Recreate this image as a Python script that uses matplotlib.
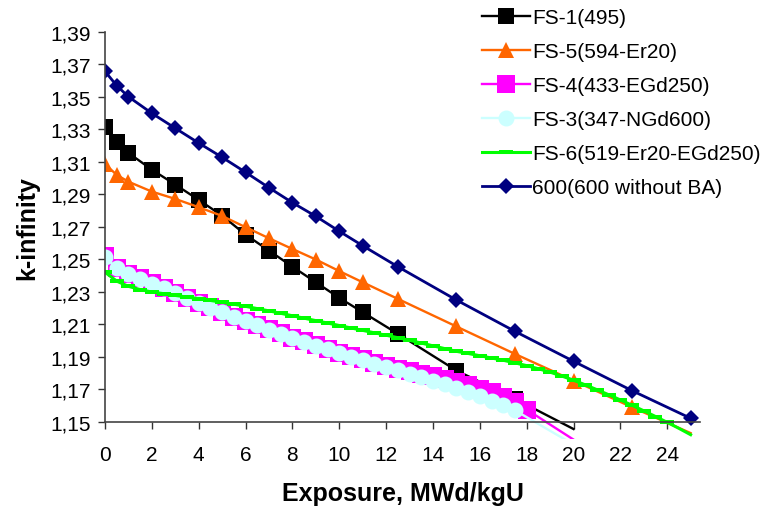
import matplotlib
matplotlib.use("Agg")
import matplotlib.pyplot as plt
from matplotlib.patches import Rectangle
from matplotlib.ticker import FuncFormatter

plt.rcParams["font.family"] = ["Liberation Sans", "DejaVu Sans"]

# burnup steps of the coarse series (MWd/kgU)
x_coarse = [0, 0.5, 1, 2, 3, 4, 5, 6, 7, 8, 9, 10, 11, 12.5, 15, 17.5, 20, 22.5, 25]

fs1 = [1.3316, 1.3223, 1.3154, 1.3051, 1.2959, 1.2865, 1.2768, 1.2651, 1.2553,
       1.2454, 1.2358, 1.2262, 1.2174, 1.2041, 1.1815, 1.1641, 1.1455]
fs5 = [1.3085, 1.3019, 1.2977, 1.2916, 1.2871, 1.2820, 1.2766, 1.2697, 1.2629,
       1.2563, 1.2498, 1.2427, 1.2358, 1.2256, 1.2086, 1.1917, 1.1753, 1.1589, 1.1430]
fs600 = [1.3656, 1.3568, 1.3500, 1.3398, 1.3306, 1.3215, 1.3127, 1.3035, 1.2940,
         1.2848, 1.2764, 1.2672, 1.2583, 1.2454, 1.2249, 1.2056, 1.1872, 1.1691, 1.1521]

x_fs4 = [0, 0.5, 1, 1.5, 2, 2.5, 3, 3.5, 4, 4.5, 5, 5.5, 6, 6.5, 7, 7.5, 8, 8.5, 9,
         9.5, 10, 10.5, 11, 11.5, 12, 12.5, 13, 13.5, 14, 14.5, 15, 15.5, 16, 16.5,
         17, 17.5, 18, 20]
fs4 = [1.2520, 1.2448, 1.2412, 1.2382, 1.2352, 1.2322, 1.2293, 1.2263, 1.2233,
       1.2203, 1.2175, 1.2147, 1.2120, 1.2094, 1.2068, 1.2043, 1.2018, 1.1994,
       1.1970, 1.1947, 1.1925, 1.1904, 1.1884, 1.1864, 1.1845, 1.1826, 1.1812,
       1.1796, 1.1780, 1.1763, 1.1745, 1.1725, 1.1703, 1.1680, 1.1654, 1.1624,
       1.1575, 1.1390]

x_fs3 = [0, 0.5, 1, 1.5, 2, 2.5, 3, 3.5, 4, 4.5, 5, 5.5, 6, 6.5, 7, 7.5, 8, 8.5, 9,
         9.5, 10, 10.5, 11, 11.5, 12, 12.5, 13, 13.5, 14, 14.5, 15, 15.5, 16, 16.5,
         17, 17.5, 20]
fs3 = [1.2512, 1.2445, 1.2410, 1.2380, 1.2350, 1.2320, 1.2291, 1.2261, 1.2231,
       1.2202, 1.2174, 1.2146, 1.2119, 1.2093, 1.2067, 1.2041, 1.2016, 1.1992,
       1.1968, 1.1945, 1.1922, 1.1900, 1.1879, 1.1858, 1.1837, 1.1816, 1.1795,
       1.1774, 1.1752, 1.1730, 1.1707, 1.1683, 1.1657, 1.1630, 1.1601, 1.1570,
       1.1360]

x_fs6 = [0, 0.5, 1, 1.5, 2, 2.5, 3, 3.5, 4, 4.5, 5, 5.5, 6, 6.5, 7, 7.5, 8, 8.5, 9,
         9.5, 10, 10.5, 11, 11.5, 12, 12.5, 13, 13.5, 14, 14.5, 15, 15.5, 16, 16.5,
         17, 17.5, 18, 18.5, 19, 19.5, 20, 20.5, 21, 21.5, 22, 22.5, 23, 23.5, 24,
         24.5, 25]
fs6 = [1.2420, 1.2365, 1.2333, 1.2313, 1.2298, 1.2288, 1.2277, 1.2267, 1.2257,
       1.2246, 1.2235, 1.2223, 1.2210, 1.2196, 1.2182, 1.2167, 1.2152, 1.2137,
       1.2122, 1.2107, 1.2092, 1.2077, 1.2062, 1.2047, 1.2032, 1.2017, 1.2001,
       1.1984, 1.1967, 1.1950, 1.1933, 1.1920, 1.1906, 1.1892, 1.1878, 1.1862,
       1.1845, 1.1826, 1.1805, 1.1781, 1.1755, 1.1727, 1.1697, 1.1666, 1.1634,
       1.1601, 1.1567, 1.1532, 1.1496, 1.1459, 1.1420]

labels = ["FS-1(495)", "FS-5(594-Er20)", "FS-4(433-EGd250)", "FS-3(347-NGd600)",
          "FS-6(519-Er20-EGd250)", "600(600 without BA)"]

x_ticks = [0, 2, 4, 6, 8, 10, 12, 14, 16, 18, 20, 22, 24]
y_ticks = [1.15, 1.17, 1.19, 1.21, 1.23, 1.25, 1.27, 1.29, 1.31, 1.33, 1.35, 1.37, 1.39]

fig = plt.figure(figsize=(7.68, 5.1), dpi=100)
ax = fig.add_axes([105 / 768, 87.3 / 510, 595 / 768, 390 / 510])

dash = [(-1, -0.35), (1, -0.35), (1, 0.35), (-1, 0.35), (-1, -0.35)]

series = [
    (x_coarse[:len(fs1)], fs1, dict(color="black", marker="s", ms=11, lw=1.7)),
    (x_coarse, fs5, dict(color="#FF6600", marker="^", ms=11.5, lw=1.7)),
    (x_fs4, fs4, dict(color="#FF00FF", marker="s", ms=12.5, lw=1.7)),
    (x_fs3, fs3, dict(color="#CCFFFF", marker="o", ms=11.5, lw=1.7)),
    (x_fs6, fs6, dict(color="#00FF00", marker=dash, ms=10, lw=2.2)),
    (x_coarse, fs600, dict(color="#000080", marker="D", ms=8.5, lw=2)),
]

ymin, ymax = 1.15, 1.39

# Excel lets the lines run a little below the x axis, but hides the markers there
clip = Rectangle((0, -0.045), 1.05, 1.1, transform=ax.transAxes)
for (xs, ys, kw), lab in zip(series, labels):
    shown = [i for i, v in enumerate(ys) if v >= ymin - 0.002]
    line, = ax.plot(xs, ys, label=lab, markeredgewidth=0, markevery=shown, **kw)
    line.set_clip_path(clip)

ax.set_xlim(0, 25.4)
ax.set_ylim(ymin, ymax)
ax.set_xticks(x_ticks)
ax.set_yticks(y_ticks)
ax.yaxis.set_major_formatter(FuncFormatter(lambda v, p: f"{v:.2f}".replace(".", ",")))
ax.tick_params(direction="out", length=5, width=1, labelsize=15, color="#333333")
ax.tick_params(axis="x", pad=12)
ax.tick_params(axis="y", pad=5)
for s in ["top", "right"]:
    ax.spines[s].set_visible(False)
for s in ["left", "bottom"]:
    ax.spines[s].set_color("#444444")
    ax.spines[s].set_linewidth(1.2)

ax.set_xlabel("Exposure, MWd/kgU", fontsize=18, fontweight="bold", labelpad=12)
ax.set_ylabel("k-infinity", fontsize=18, fontweight="bold", labelpad=8)

fig.legend(loc="upper left", bbox_to_anchor=(482 / 768, 1.0 - 9 / 510), frameon=False,
           fontsize=15, handlelength=2.3, handletextpad=0.1, labelspacing=0.72,
           borderpad=0, borderaxespad=0)

fig.savefig("out.png", dpi=100)
